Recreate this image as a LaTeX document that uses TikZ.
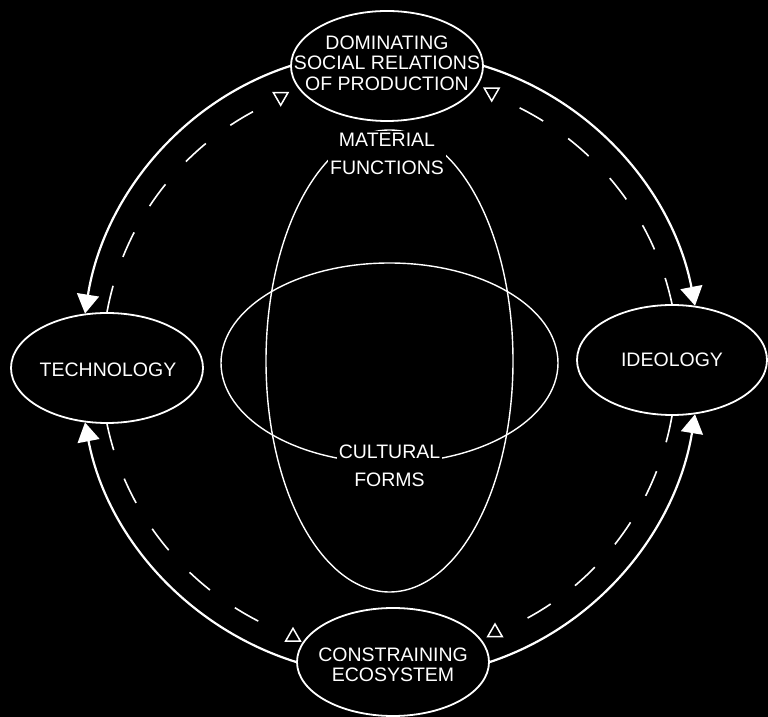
\documentclass[tikz,border=0pt]{standalone}
\usepackage{fontspec}
\setmainfont{Liberation Sans}
\usetikzlibrary{arrows.meta,shapes.geometric,calc}
\begin{document}
\begin{tikzpicture}[x=1pt,y=1pt,
  every node/.style={text=white, font=\fontsize{19.5}{20.5}\selectfont},
  box/.style={draw=white, line width=1.8pt, ellipse, inner sep=0pt},
  lbl/.style={align=center, inner sep=0pt},
  inner/.style={draw=white, line width=1.4pt, ellipse, inner sep=0pt},
  flow/.style={draw=white, line width=2.2pt, -{Triangle[length=19pt,width=22pt]}},
  back/.style={draw=white, line width=1.6pt, dash pattern=on 27pt off 30.5pt},
  tri/.style={draw=white, line width=1.5pt, regular polygon, regular polygon sides=3, minimum size=17pt, inner sep=0pt}
]
\path[use as bounding box, fill=black] (0,0) rectangle (768,717);
\coordinate (C) at (390,352);

% inner overlapping ellipses
\node[inner, minimum width=337pt, minimum height=200pt] (forms) at (389.5,354) {};
\node[inner, minimum width=247pt, minimum height=462pt] (funcs) at (389.5,356) {};
\node[lbl, fill=black, inner sep=2pt, font=\fontsize{19.5}{28}\selectfont] (mat) at (387,563) {MATERIAL\\FUNCTIONS};
\node[lbl, fill=black, inner sep=2pt, font=\fontsize{19.5}{28}\selectfont] (cul) at (389.5,251) {CULTURAL\\FORMS};

% outer ellipses
\node[box, minimum width=192pt, minimum height=110pt] (dom) at (387,651) {};
\node[lbl] (domt) at (387,654) {DOMINATING\\SOCIAL RELATIONS\\OF PRODUCTION};
\node[box, minimum width=192pt, minimum height=110pt] (tech) at (107,349) {};
\node[lbl] (techt) at (108,347) {TECHNOLOGY};
\node[box, minimum width=190pt, minimum height=110pt] (ideo) at (672,357) {};
\node[lbl] (ideot) at (672,357) {IDEOLOGY};
\node[box, minimum width=192pt, minimum height=108pt] (cons) at (393,55) {};
\node[lbl, font=\fontsize{19.5}{20}\selectfont] (const) at (393,52) {CONSTRAINING\\ECOSYSTEM};

% solid arcs
\draw[flow] (dom.west) to[out=198, in=81, looseness=0.92] (tech.112);
\draw[flow] (dom.east) to[out=-17, in=101, looseness=0.92] (ideo.67);
\draw[flow] (cons.west) to[out=162.6, in=280.8, looseness=0.92] (tech.248);
\draw[flow] (cons.east) to[out=18.4, in=260.7, looseness=0.92] (ideo.293);

% dashed return arcs
\coordinate (tlend) at ($(C)+(118.4:288)$);
\coordinate (trend) at ($(C)+(63.3:288)$);
\coordinate (blend) at ($(C)+(243.3:288)$);
\coordinate (brend) at ($(C)+(-61.6:288)$);
\draw[back] (tech.north) to[out=79.6, in=208.4, looseness=0.9] (tlend);
\draw[back] (ideo.north) to[out=102, in=333.3, looseness=0.9] (trend);
\draw[back] (tech.south) to[out=281.6, in=153.3, looseness=0.9] (blend);
\draw[back] (ideo.south) to[out=260, in=28.4, looseness=0.9] (brend);

% open triangles
\node[tri, shape border rotate=180] (t1) at (280.7,620.2) {};
\node[tri, shape border rotate=180] (t2) at (491.7,624.5) {};
\node[tri] (t3) at (293,80.2) {};
\node[tri] (t4) at (495,84.5) {};
\end{tikzpicture}
\end{document}
